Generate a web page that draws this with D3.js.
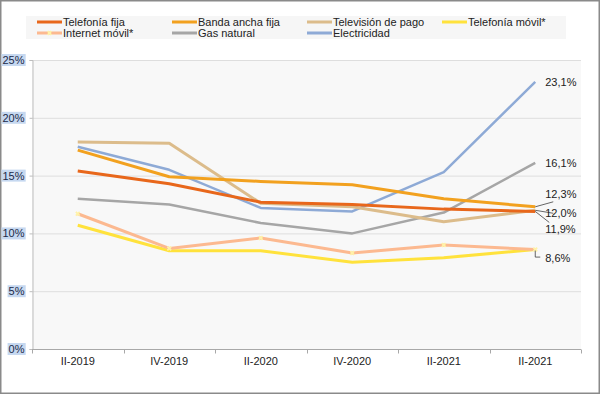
<!DOCTYPE html>
<html>
<head>
<meta charset="utf-8">
<script src="https://cdn.jsdelivr.net/npm/d3@7"></script>
<style>
  body { margin: 0; background: #fff; }
  svg { display: block; font-family: "Liberation Sans", Arial, sans-serif; }
</style>
</head>
<body>
<svg id="chart" width="600" height="394"></svg>
<script>
// periods
var periods = ['II-2019', 'IV-2019', 'II-2020', 'IV-2020', 'II-2021', 'II-2021'];

// series values (%)
var telefoniaFija = [15.4, 14.3, 12.7, 12.5, 12.1, 11.9];
var bandaAncha = [17.2, 14.9, 14.5, 14.2, 13.0, 12.3];
var television = [17.9, 17.8, 12.6, 12.3, 11.0, 12.0];
var telefoniaMovil = [10.7, 8.5, 8.5, 7.5, 7.9, 8.6];
var internetMovil = [11.7, 8.7, 9.6, 8.3, 9.0, 8.6];
var gasNatural = [13.0, 12.5, 10.9, 10.0, 11.8, 16.1];
var electricidad = [17.5, 15.5, 12.2, 11.9, 15.3, 23.1];

var yTicks = [0, 5, 10, 15, 20, 25];

var series = [
    { name: 'Telefonía fija', values: telefoniaFija, color: '#e8671b', w: 3 },
    { name: 'Banda ancha fija', values: bandaAncha, color: '#f2a11f', w: 3 },
    { name: 'Televisión de pago', values: television, color: '#dcbc8b', w: 3 },
    { name: 'Telefonía móvil*', values: telefoniaMovil, color: '#ffe23c', w: 3 },
    { name: 'Internet móvil*', values: internetMovil, color: '#fcb990', w: 3, marker: true },
    { name: 'Gas natural', values: gasNatural, color: '#a6a6a6', w: 2.5 },
    { name: 'Electricidad', values: electricidad, color: '#8eaad6', w: 2.5 }
];

// end labels: which series, and where the text goes relative to the last point
var endLabels = [
    { s: 6, dy: 0, leader: null },
    { s: 5, dy: 0, leader: null },
    { s: 1, dy: -13, leader: 'line' },
    { s: 2, dy: 3, leader: 'line' },
    { s: 0, dy: 18, leader: 'line' },
    { s: 4, dy: 9, leader: 'elbow' }
];

var fmt = function(v) { return v.toFixed(1).replace('.', ',') + '%'; };

var svg = d3.select('#chart');
var W = 600, H = 394;

svg.append('rect')
    .attr('x', 0.75).attr('y', 0.75)
    .attr('width', W - 1.5).attr('height', H - 1.5)
    .attr('fill', '#fff').attr('stroke', '#8a8a8a').attr('stroke-width', 1.5);

var plot = { left: 32, right: 581, top: 60, bottom: 349 };

var x = d3.scaleBand()
    .domain(d3.range(periods.length))
    .range([plot.left, plot.right])
    .padding(0);

var y = d3.scaleLinear()
    .domain([0, 25])
    .range([plot.bottom, plot.top]);

var cx = function(i) { return x(i) + x.bandwidth() / 2; };

// plot background
svg.append('rect')
    .attr('x', plot.left).attr('y', plot.top)
    .attr('width', plot.right - plot.left).attr('height', plot.bottom - plot.top)
    .attr('fill', '#f8f8f8');

// gridlines
svg.append('g')
    .selectAll('line')
    .data(yTicks.filter(function(d) { return d > 0; }))
    .enter().append('line')
    .attr('x1', plot.left).attr('x2', plot.right)
    .attr('y1', function(d) { return y(d) + 0.5; })
    .attr('y2', function(d) { return y(d) + 0.5; })
    .attr('stroke', '#dedede');

// y axis
var yAxis = svg.append('g')
    .attr('transform', 'translate(' + (plot.left + 0.5) + ',0)')
    .call(d3.axisLeft(y).tickValues(yTicks).tickSize(3).tickPadding(5)
        .tickFormat(function(d) { return d + '%'; }));
yAxis.select('.domain').attr('stroke', '#bdbdbd');
yAxis.selectAll('.tick line').attr('stroke', '#bdbdbd');
yAxis.selectAll('.tick text')
    .attr('font-size', 11).attr('fill', '#1c2a48')
    .each(function() {
        var bb = this.getBBox();
        d3.select(this.parentNode).insert('rect', 'text')
            .attr('x', bb.x - 1).attr('y', bb.y)
            .attr('width', bb.width + 2).attr('height', bb.height)
            .attr('fill', '#c6d8f0');
    });

// x axis
var xAxisG = svg.append('g')
    .attr('transform', 'translate(0,' + (plot.bottom + 0.5) + ')');
xAxisG.append('line')
    .attr('x1', plot.left).attr('x2', plot.right)
    .attr('stroke', '#a8a8a8');
var bounds = d3.range(periods.length).map(function(i) { return x(i); }).concat([plot.right]);
xAxisG.selectAll('.xt')
    .data(bounds)
    .enter().append('line')
    .attr('class', 'xt')
    .attr('x1', function(d) { return Math.round(d) + 0.5; })
    .attr('x2', function(d) { return Math.round(d) + 0.5; })
    .attr('y1', 0).attr('y2', 4)
    .attr('stroke', '#a8a8a8');
xAxisG.selectAll('.xl')
    .data(periods)
    .enter().append('text')
    .attr('class', 'xl')
    .attr('x', function(d, i) { return cx(i); })
    .attr('y', 15)
    .attr('text-anchor', 'middle')
    .attr('font-size', 11)
    .attr('fill', '#222')
    .text(function(d) { return d; });

// lines, drawn so Electricidad and Gas end up under the others like the original
var line = d3.line()
    .x(function(d, i) { return cx(i); })
    .y(function(d) { return y(d); });

var drawOrder = [6, 5, 3, 4, 2, 1, 0];
svg.append('g')
    .selectAll('path')
    .data(drawOrder.map(function(k) { return series[k]; }))
    .enter().append('path')
    .attr('d', function(d) { return line(d.values); })
    .attr('fill', 'none')
    .attr('stroke', function(d) { return d.color; })
    .attr('stroke-width', function(d) { return d.w; })
    .attr('stroke-linejoin', 'round');

// Internet móvil markers
var star = d3.symbol().type(d3.symbolCross).size(16);
svg.append('g')
    .selectAll('path')
    .data(internetMovil)
    .enter().append('path')
    .attr('d', star)
    .attr('transform', function(d, i) { return 'translate(' + cx(i) + ',' + y(d) + ') rotate(45)'; })
    .attr('fill', '#fff2a8');

// end labels
var last = periods.length - 1;
var lx = cx(last);
var lab = svg.append('g');
endLabels.forEach(function(l) {
    var v = series[l.s].values[last];
    var py = y(v);
    var ty = py + l.dy;
    if (l.leader === 'line') {
        lab.append('line')
            .attr('x1', lx).attr('y1', py)
            .attr('x2', lx + 10 + (l.dy > 10 ? 4 : 8)).attr('y2', ty + (l.dy < 0 ? 8 : l.dy > 10 ? -7 : 0))
            .attr('stroke', '#404040').attr('stroke-width', 0.8);
    } else if (l.leader === 'elbow') {
        lab.append('path')
            .attr('d', 'M' + lx + ',' + (py + 1) + 'V' + (ty - 1.5) + 'H' + (lx + 5))
            .attr('fill', 'none')
            .attr('stroke', '#404040').attr('stroke-width', 0.8);
    }
    lab.append('text')
        .attr('x', lx + 10)
        .attr('y', ty)
        .attr('dy', '0.35em')
        .attr('font-size', 11)
        .attr('fill', '#222')
        .text(fmt(v));
});

// legend
var legend = svg.append('g');
legend.append('rect')
    .attr('x', 26).attr('y', 16)
    .attr('width', 540).attr('height', 23)
    .attr('fill', '#f6f6f6');
var legendOrder = [0, 1, 2, 3, 4, 5, 6];
var item = legend.selectAll('.li')
    .data(legendOrder.map(function(k) { return series[k]; }))
    .enter().append('g')
    .attr('class', 'li')
    .attr('transform', function(d, i) {
        return 'translate(' + (37 + (i % 4) * 135) + ',' + (22 + Math.floor(i / 4) * 11) + ')';
    });
item.append('line')
    .attr('x1', 0).attr('x2', 25)
    .attr('stroke', function(d) { return d.color; })
    .attr('stroke-width', 3);
item.filter(function(d) { return d.marker; })
    .append('path')
    .attr('d', star)
    .attr('transform', 'translate(12.5,0) rotate(45)')
    .attr('fill', '#fff2a8');
item.append('text')
    .attr('x', 26)
    .attr('dy', '0.35em')
    .attr('font-size', 11)
    .attr('fill', '#222')
    .text(function(d) { return d.name; });
</script>
</body>
</html>
